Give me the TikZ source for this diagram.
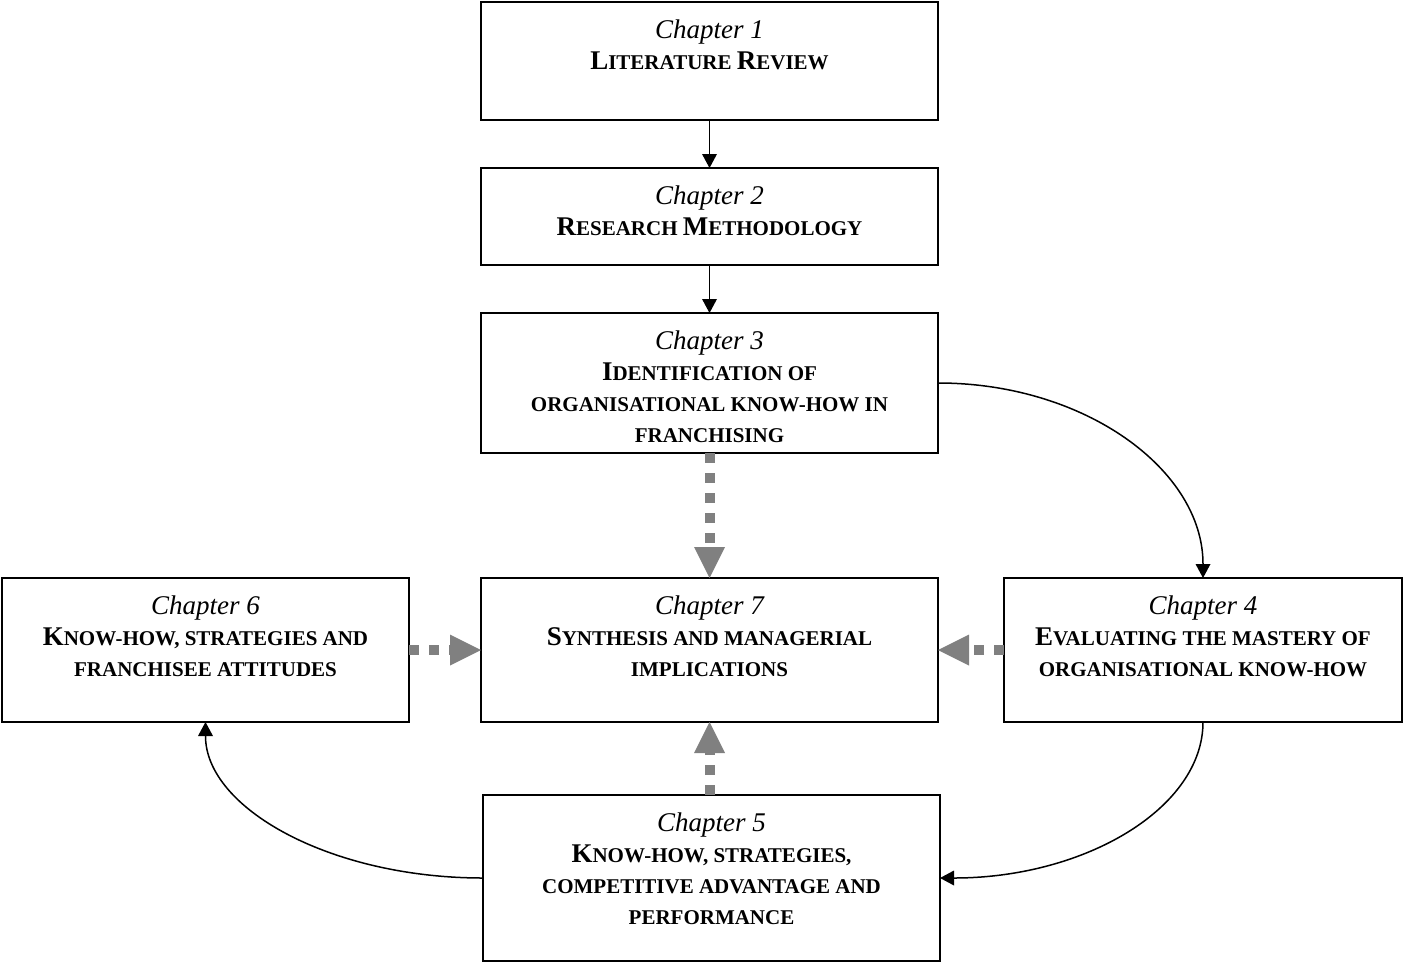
\documentclass[tikz,border=0pt]{standalone}
\usepackage{fontspec}
\setmainfont{Liberation Serif}
\usetikzlibrary{arrows.meta,positioning}
\definecolor{linkgray}{RGB}{128,128,128}
% large initial letters of the small-capital headings
\newcommand\capl[1]{{\fontsize{27}{31}\selectfont #1}}
% italic chapter line
\newcommand\chap[1]{\rule{0pt}{20pt}{\fontsize{27}{31}\selectfont\mdseries\itshape #1}}

\begin{document}
\begin{tikzpicture}[x=1pt,y=-1pt,
  box/.style={draw, line width=1.8pt, inner sep=0pt, outer sep=0pt},
  txt/.style={align=center, inner sep=0pt, font=\fontsize{21}{31}\selectfont\bfseries},
  flow/.style={line width=1.5pt, -{Triangle[length=14pt,width=15pt,line width=0pt]}},
  feed/.style={linkgray, line width=10pt, dash pattern=on 10pt off 10pt,
    -{Triangle[length=31pt,width=31pt,line width=0pt]}}]
\useasboundingbox (0,0) rectangle (1404,963);

% chapter boxes
\node[box, minimum width=457pt, minimum height=118pt] (c1) at (709.5,61) {};
\node[box, minimum width=457pt, minimum height=97pt]  (c2) at (709.5,216.5) {};
\node[box, minimum width=457pt, minimum height=140pt] (c3) at (709.5,383) {};
\node[box, minimum width=457pt, minimum height=144pt] (c7) at (709.5,650) {};
\node[box, minimum width=407pt, minimum height=144pt] (c6) at (205.5,650) {};
\node[box, minimum width=398pt, minimum height=144pt] (c4) at (1203,650) {};
\node[box, minimum width=457pt, minimum height=166pt] (c5) at (711.5,878) {};

% chapter titles
\node[txt, below=16pt of c1.north] (t1) {\chap{Chapter 1}\\\capl{L}ITERATURE \capl{R}EVIEW};
\node[txt, below=16pt of c2.north] (t2) {\chap{Chapter 2}\\\capl{R}ESEARCH \capl{M}ETHODOLOGY};
\node[txt, below=16pt of c3.north] (t3) {\chap{Chapter 3}\\\capl{I}DENTIFICATION OF\\ORGANISATIONAL KNOW-HOW IN\\FRANCHISING};
\node[txt, below=16pt of c7.north] (t7) {\chap{Chapter 7}\\\capl{S}YNTHESIS AND MANAGERIAL\\IMPLICATIONS};
\node[txt, below=16pt of c6.north] (t6) {\chap{Chapter 6}\\\capl{K}NOW-HOW, STRATEGIES AND\\FRANCHISEE ATTITUDES};
\node[txt, below=16pt of c4.north] (t4) {\chap{Chapter 4}\\\capl{E}VALUATING THE MASTERY OF\\ORGANISATIONAL KNOW-HOW};
\node[txt, below=16pt of c5.north] (t5) {\chap{Chapter 5}\\\capl{K}NOW-HOW, STRATEGIES,\\COMPETITIVE ADVANTAGE AND\\PERFORMANCE};

% sequence of chapters
\draw[flow] (c1.south) -- (c2.north);
\draw[flow] (c2.south) -- (c3.north);
\draw[flow] (c3.east) .. controls +(147,0) and +(0,-108) .. (c4.north);
\draw[flow] (c4.south) .. controls +(0,86) and +(145,0) .. (c5.east);
\draw[flow] (c5.west) .. controls +(-153,0) and +(0,86) .. (c6.south);

% contributions to the synthesis
\draw[feed] (c3.south) -- (c7.north);
\draw[feed] (c6.east) -- (c7.west);
\draw[feed] (c4.west) -- (c7.east);
\draw[feed] (c5.north -| c7.south) -- (c7.south);
\end{tikzpicture}
\end{document}
